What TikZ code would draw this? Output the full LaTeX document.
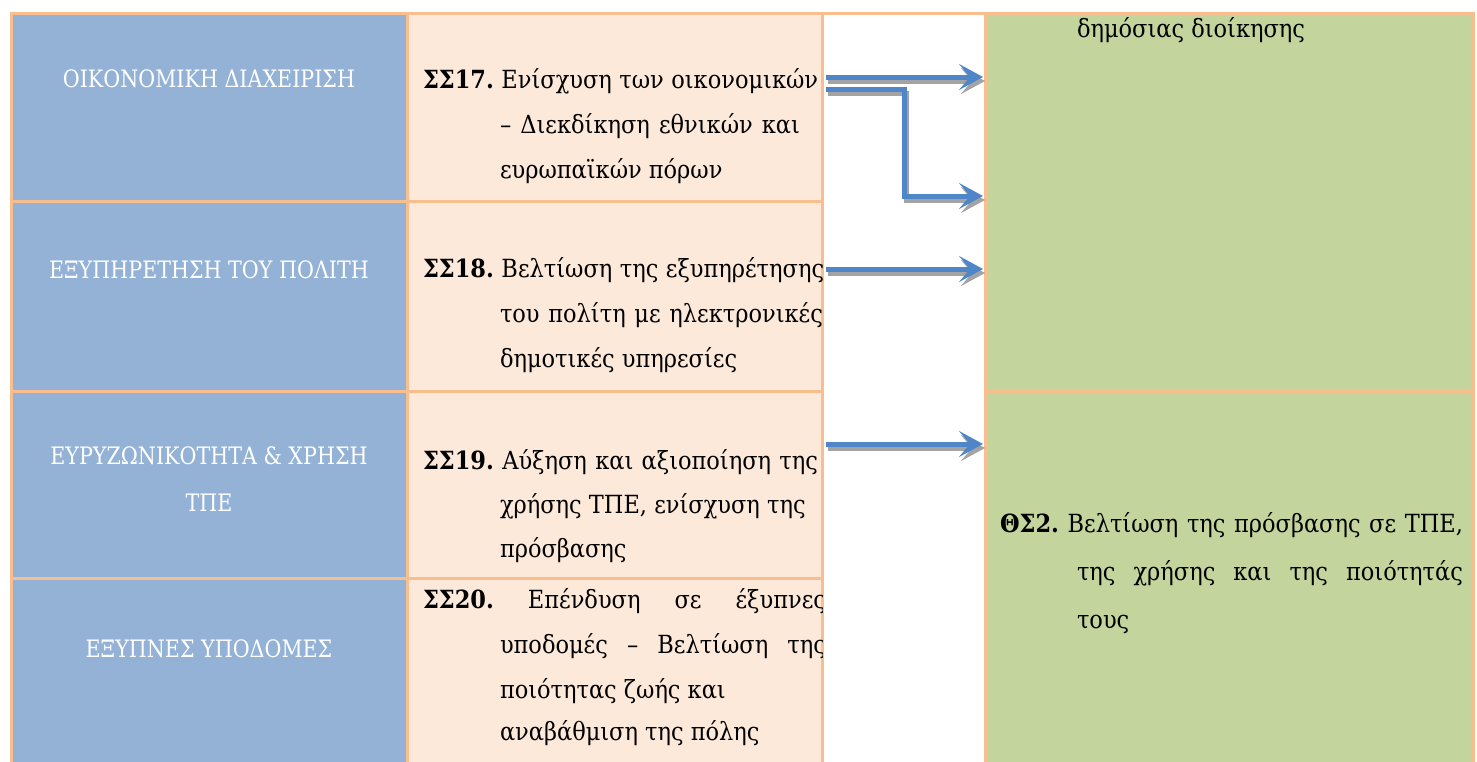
\documentclass[tikz,border=0pt]{standalone}
\usepackage{fontspec}
\setmainfont[FakeStretch=0.9]{DejaVu Serif}
\newfontfamily\bluefont[FakeStretch=0.86]{DejaVu Serif}
\usetikzlibrary{arrows.meta}
\definecolor{cblue}{HTML}{93B2D6}
\definecolor{cpeach}{HTML}{FCE9DA}
\definecolor{cgreen}{HTML}{C3D49C}
\definecolor{cborder}{HTML}{F9BE8E}
\definecolor{carrow}{HTML}{4F86C8}
\definecolor{cshadow}{HTML}{A3A3A3}
\newcommand\js{\hskip 0.3em plus 1fill\relax}
\begin{document}
\begin{tikzpicture}[x=1pt,y=-1pt,
  cellbox/.style={draw=cborder,line width=3pt,inner sep=0pt,outer sep=0pt},
  txt/.style={font=\fontsize{25pt}{30pt}\selectfont,inner sep=0pt,outer sep=0pt},
  bluetxt/.style={font=\bluefont\fontsize{24pt}{30pt}\selectfont,inner sep=0pt,outer sep=0pt,text=white,anchor=base},
  ln/.style={txt,text=black,anchor=base west},
  arr/.style={draw=carrow,line width=5pt,-{Stealth[length=24pt,width=26pt,inset=11pt]}},
  arrshadow/.style={draw=cshadow,line width=5pt,-{Stealth[length=24pt,width=26pt,inset=11pt]}},
  sh/.style={xshift=2pt,yshift=-4pt}]
\useasboundingbox (0,0) rectangle (1477,761);
\fill[white] (0,0) rectangle (1477,761);
% cells
\node[cellbox,fill=cblue,minimum width=396pt,minimum height=188pt] (b1) at (209,107) {};
\node[cellbox,fill=cblue,minimum width=396pt,minimum height=190pt] (b2) at (209,296) {};
\node[cellbox,fill=cblue,minimum width=396pt,minimum height=187pt] (b3) at (209,484.5) {};
\node[cellbox,fill=cblue,minimum width=396pt,minimum height=197pt] (b4) at (209,676.5) {};
\node[cellbox,fill=cpeach,minimum width=415pt,minimum height=188pt] (p1) at (614.5,107) {};
\node[cellbox,fill=cpeach,minimum width=415pt,minimum height=190pt] (p2) at (614.5,296) {};
\node[cellbox,fill=cpeach,minimum width=415pt,minimum height=187pt] (p3) at (614.5,484.5) {};
\node[cellbox,fill=cpeach,minimum width=415pt,minimum height=197pt] (p4) at (614.5,676.5) {};
\node[cellbox,fill=cgreen,minimum width=488pt,minimum height=378pt] (g1) at (1229,202) {};
\node[cellbox,fill=cgreen,minimum width=488pt,minimum height=384pt] (g2) at (1229,583) {};
\draw[draw=cborder,line width=3pt] (p1.north east) -- (g1.north west);
\draw[draw=cborder,line width=3pt] (p1.north east) -- (p4.south east);
\draw[draw=cborder,line width=3pt] (g1.north west) -- (g2.south west);
% blue texts
\node[bluetxt] (t1) at (209,87) {ΟΙΚΟΝΟΜΙΚΗ ΔΙΑΧΕΙΡΙΣΗ};
\node[bluetxt] (t2) at (209,278) {ΕΞΥΠΗΡΕΤΗΣΗ ΤΟΥ ΠΟΛΙΤΗ};
\node[bluetxt] (t3a) at (209,464) {ΕΥΡΥΖΩΝΙΚΟΤΗΤΑ \& ΧΡΗΣΗ};
\node[bluetxt] (t3b) at (209,511) {ΤΠΕ};
\node[bluetxt] (t4) at (209,657) {ΕΞΥΠΝΕΣ ΥΠΟΔΟΜΕΣ};
% peach texts
\begin{scope}
\clip (407,13) rectangle (822,770);
\node[ln] (s17a) at (423,88) {\hbox to 395pt{\textbf{ΣΣ17.}\js Ενίσχυση\js των\js οικονομικών}};
\node[ln] (s17b) at (500,133) {\hbox to 300pt{–\js Διεκδίκηση\js εθνικών\js και}};
\node[ln] (s17c) at (500,178) {ευρωπαϊκών πόρων};
\node[ln] (s18a) at (423,277) {\hbox to 400pt{\textbf{ΣΣ18.}\js Βελτίωση\js της\js εξυπηρέτησης}};
\node[ln] (s18b) at (500,322) {\hbox to 323pt{του\js πολίτη\js με\js ηλεκτρονικές}};
\node[ln] (s18c) at (500,367) {δημοτικές υπηρεσίες};
\node[ln] (s19a) at (423,469) {\hbox to 395pt{\textbf{ΣΣ19.}\js Αύξηση\js και\js αξιοποίηση\js της}};
\node[ln] (s19b) at (500,513) {χρήσης ΤΠΕ, ενίσχυση της};
\node[ln] (s19c) at (500,557) {πρόσβασης};
\node[ln] (s20a) at (423,608) {\hbox to 403pt{\textbf{ΣΣ20.}\js Επένδυση\js σε\js έξυπνες}};
\node[ln] (s20b) at (500,653) {\hbox to 326pt{υποδομές\js –\js Βελτίωση\js της}};
\node[ln] (s20c) at (500,698) {ποιότητας ζωής και};
\node[ln] (s20d) at (500,740) {αναβάθμιση της πόλης};
\end{scope}
% green texts
\node[ln] (g1a) at (1077,37) {δημόσιας διοίκησης};
\node[ln] (g2a) at (1000,532) {\hbox to 463pt{\textbf{ΘΣ2.}\js Βελτίωση\js της\js πρόσβασης\js σε\js ΤΠΕ,}};
\node[ln] (g2b) at (1077,580) {\hbox to 386pt{της\js χρήσης\js και\js της\js ποιότητάς}};
\node[ln] (g2c) at (1077,628) {τους};
% arrows
\coordinate (a1s) at (826,77);
\coordinate (a1e) at (983,77);
\coordinate (a2s) at (826,89);
\coordinate (a2m) at (904,196);
\coordinate (a2e) at (983,196);
\coordinate (a3s) at (826,269);
\coordinate (a3e) at (983,269);
\coordinate (a4s) at (826,444);
\coordinate (a4e) at (983,444);
\draw[arrshadow] ([sh]a1s) -- ([sh]a1e);
\draw[arrshadow] ([sh]a2s) -| ([sh]a2m) -- ([sh]a2e);
\draw[arrshadow] ([sh]a3s) -- ([sh]a3e);
\draw[arrshadow] ([sh]a4s) -- ([sh]a4e);
\draw[arr] (a1s) -- (a1e);
\draw[arr] (a2s) -| (a2m) -- (a2e);
\draw[arr] (a3s) -- (a3e);
\draw[arr] (a4s) -- (a4e);
\end{tikzpicture}
\end{document}
